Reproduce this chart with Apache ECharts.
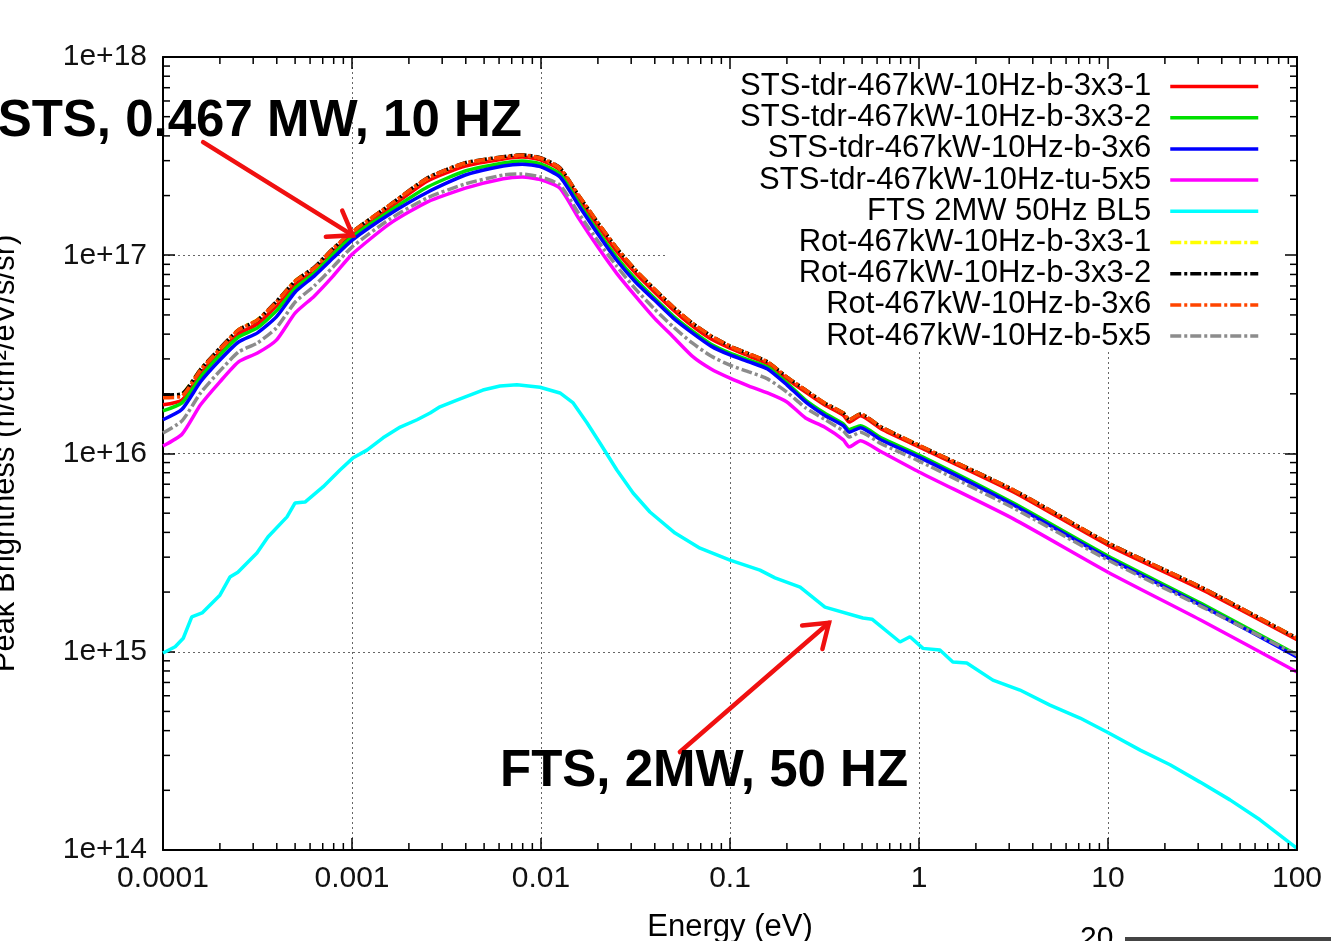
<!DOCTYPE html>
<html>
<head>
<meta charset="utf-8">
<title>Peak Brightness vs Energy</title>
<script src="https://cdn.jsdelivr.net/npm/echarts@6/dist/echarts.min.js"></script>
<style>
html, body { margin: 0; padding: 0; background: #fff; }
#chart { width: 1331px; height: 941px; }
</style>
</head>
<body>
<div id="chart"></div>
<script>
// energies (eV) used by the STS and Rot curves
const energy = [1e-4, 1.26e-4, 1.58e-4, 2e-4, 2.51e-4, 3.16e-4, 3.98e-4, 5.01e-4, 6.31e-4, 7.94e-4,
    1e-3, 1.58e-3, 2.51e-3, 3.98e-3, 6.31e-3, 7.94e-3,
    0.01, 0.0126, 0.0158, 0.02, 0.0251, 0.0316, 0.0398, 0.0501, 0.0631, 0.0794,
    0.1, 0.126, 0.158, 0.2, 0.251, 0.316, 0.398, 0.427, 0.49, 0.631,
    1, 3.16, 10, 31.6, 100]

const stsB3x3_1 = [1.76e16, 1.86e16, 2.52e16, 3.25e16, 4.01e16, 4.50e16, 5.55e16, 7.16e16, 8.34e16, 1.04e17,
    1.26e17, 1.73e17, 2.37e17, 2.82e17, 3.06e17, 3.13e17,
    3.02e17, 2.69e17, 1.95e17, 1.41e17, 1.05e17, 8.13e16, 6.53e16, 5.30e16, 4.40e16, 3.78e16,
    3.40e16, 3.10e16, 2.83e16, 2.38e16, 2.04e16, 1.76e16, 1.56e16, 1.44e16, 1.55e16, 1.33e16,
    1.08e16, 6.40e15, 3.45e15, 2.05e15, 1.15e15]
const stsB3x3_2 = [1.64e16, 1.80e16, 2.43e16, 3.14e16, 3.87e16, 4.30e16, 5.24e16, 6.84e16, 8.13e16, 1.01e17,
    1.24e17, 1.67e17, 2.21e17, 2.66e17, 2.92e17, 2.99e17,
    2.88e17, 2.57e17, 1.84e17, 1.32e17, 9.80e16, 7.59e16, 6.08e16, 4.94e16, 4.15e16, 3.56e16,
    3.21e16, 2.96e16, 2.73e16, 2.27e16, 1.86e16, 1.60e16, 1.41e16, 1.32e16, 1.38e16, 1.20e16,
    9.82e15, 5.62e15, 3.04e15, 1.74e15, 9.64e14]
const stsB3x6 = [1.48e16, 1.67e16, 2.30e16, 2.96e16, 3.65e16, 4.06e16, 4.89e16, 6.53e16, 7.85e16, 9.68e16,
    1.19e17, 1.61e17, 2.08e17, 2.54e17, 2.82e17, 2.88e17,
    2.79e17, 2.48e17, 1.79e17, 1.28e17, 9.46e16, 7.33e16, 5.94e16, 4.82e16, 4.06e16, 3.48e16,
    3.14e16, 2.90e16, 2.67e16, 2.22e16, 1.82e16, 1.56e16, 1.38e16, 1.28e16, 1.35e16, 1.17e16,
    9.59e15, 5.50e15, 2.97e15, 1.70e15, 9.40e14]
const stsTu5x5 = [1.09e16, 1.25e16, 1.76e16, 2.30e16, 2.90e16, 3.21e16, 3.73e16, 5.12e16, 6.22e16, 7.85e16,
    1.01e17, 1.44e17, 1.86e17, 2.18e17, 2.43e17, 2.48e17,
    2.40e17, 2.18e17, 1.54e17, 1.10e17, 8.13e16, 6.22e16, 4.82e16, 3.87e16, 3.10e16, 2.67e16,
    2.40e16, 2.19e16, 2.02e16, 1.82e16, 1.51e16, 1.36e16, 1.17e16, 1.08e16, 1.16e16, 1.02e16,
    8.07e15, 4.68e15, 2.52e15, 1.43e15, 7.91e14]
const rotB3x3_1 = [1.94e16, 1.99e16, 2.66e16, 3.37e16, 4.22e16, 4.73e16, 5.81e16, 7.45e16, 8.63e16, 1.08e17,
    1.31e17, 1.79e17, 2.45e17, 2.92e17, 3.13e17, 3.20e17,
    3.09e17, 2.75e17, 2.01e17, 1.46e17, 1.09e17, 8.43e16, 6.76e16, 5.48e16, 4.55e16, 3.92e16,
    3.48e16, 3.18e16, 2.90e16, 2.43e16, 2.09e16, 1.80e16, 1.60e16, 1.48e16, 1.58e16, 1.36e16,
    1.10e16, 6.55e15, 3.54e15, 2.10e15, 1.17e15]
const rotB3x3_2 = [1.97e16, 2.00e16, 2.66e16, 3.40e16, 4.20e16, 4.71e16, 5.85e16, 7.41e16, 8.70e16, 1.08e17,
    1.31e17, 1.79e17, 2.46e17, 2.93e17, 3.14e17, 3.21e17,
    3.10e17, 2.76e17, 2.01e17, 1.46e17, 1.09e17, 8.43e16, 6.76e16, 5.48e16, 4.55e16, 3.92e16,
    3.48e16, 3.18e16, 2.90e16, 2.43e16, 2.09e16, 1.80e16, 1.60e16, 1.48e16, 1.58e16, 1.36e16,
    1.10e16, 6.55e15, 3.54e15, 2.10e15, 1.17e15]
const rotB3x6 = [1.91e16, 1.95e16, 2.64e16, 3.37e16, 4.20e16, 4.71e16, 5.81e16, 7.41e16, 8.63e16, 1.08e17,
    1.31e17, 1.79e17, 2.45e17, 2.92e17, 3.13e17, 3.20e17,
    3.09e17, 2.75e17, 2.01e17, 1.46e17, 1.09e17, 8.43e16, 6.76e16, 5.48e16, 4.55e16, 3.92e16,
    3.48e16, 3.18e16, 2.90e16, 2.43e16, 2.09e16, 1.80e16, 1.60e16, 1.48e16, 1.58e16, 1.36e16,
    1.10e16, 6.55e15, 3.54e15, 2.10e15, 1.17e15]
const rotB5x5 = [1.27e16, 1.46e16, 2.02e16, 2.61e16, 3.25e16, 3.61e16, 4.30e16, 5.81e16, 7.00e16, 8.73e16,
    1.10e17, 1.52e17, 1.95e17, 2.29e17, 2.54e17, 2.57e17,
    2.48e17, 2.26e17, 1.63e17, 1.18e17, 8.83e16, 6.76e16, 5.36e16, 4.35e16, 3.61e16, 3.10e16,
    2.79e16, 2.58e16, 2.38e16, 2.04e16, 1.70e16, 1.49e16, 1.30e16, 1.21e16, 1.28e16, 1.12e16,
    9.16e15, 5.31e15, 2.90e15, 1.68e15, 9.64e14]

// FTS curve has its own energies
const ftsEnergy = [1.00e-4, 1.16e-4, 1.28e-4, 1.42e-4, 1.61e-4, 2.00e-4, 2.26e-4, 2.49e-4, 3.14e-4, 3.59e-4,
    4.53e-4, 4.99e-4, 5.64e-4, 7.02e-4, 8.64e-4, 1.01e-3, 1.20e-3, 1.46e-3, 1.80e-3, 2.21e-3,
    2.59e-3, 2.92e-3, 3.59e-3, 4.93e-3, 6.07e-3, 7.46e-3, 9.88e-3, 1.26e-2, 1.48e-2, 1.75e-2,
    2.05e-2, 2.52e-2, 3.07e-2, 3.77e-2, 5.12e-2, 6.94e-2, 0.100, 0.144, 0.173, 0.235,
    0.318, 0.505, 0.564, 0.793, 0.896, 1.05, 1.29, 1.51, 1.79, 2.46,
    3.42, 4.93, 7.11, 10.1, 14.8, 21.3, 30.7, 44.2, 63.7, 100]
const ftsBL5 = [9.86e14, 1.06e15, 1.17e15, 1.50e15, 1.57e15, 1.93e15, 2.38e15, 2.52e15, 3.15e15, 3.79e15,
    4.79e15, 5.62e15, 5.69e15, 6.78e15, 8.26e15, 9.48e15, 1.04e16, 1.20e16, 1.36e16, 1.48e16,
    1.60e16, 1.72e16, 1.86e16, 2.09e16, 2.19e16, 2.22e16, 2.16e16, 2.02e16, 1.80e16, 1.43e16,
    1.13e16, 8.26e15, 6.32e15, 5.07e15, 3.97e15, 3.33e15, 2.90e15, 2.58e15, 2.36e15, 2.12e15,
    1.68e15, 1.48e15, 1.46e15, 1.12e15, 1.19e15, 1.04e15, 1.02e15, 8.87e14, 8.77e14, 7.19e14,
    6.41e14, 5.38e14, 4.63e14, 3.89e14, 3.19e14, 2.69e14, 2.20e14, 1.79e14, 1.42e14, 1.02e14]

const xTickLabels = ['0.0001', '0.001', '0.01', '0.1', '1', '10', '100']
const yTickLabels = ['1e+14', '1e+15', '1e+16', '1e+17', '1e+18']
const minorSteps = [2, 3, 4, 5, 6, 7, 8, 9]

const xMin = 1e-4, xMax = 100, yMin = 1e14, yMax = 1e18
const FONT = 'Liberation Sans'
const dashDot = [11, 3, 3, 3]

const curves = [
    {name: 'STS-tdr-467kW-10Hz-b-3x3-1', x: energy, y: stsB3x3_1, color: '#ff0000', type: 'solid'},
    {name: 'STS-tdr-467kW-10Hz-b-3x3-2', x: energy, y: stsB3x3_2, color: '#00e000', type: 'solid'},
    {name: 'STS-tdr-467kW-10Hz-b-3x6', x: energy, y: stsB3x6, color: '#0000ff', type: 'solid'},
    {name: 'STS-tdr-467kW-10Hz-tu-5x5', x: energy, y: stsTu5x5, color: '#ff00ff', type: 'solid'},
    {name: 'FTS 2MW 50Hz BL5', x: ftsEnergy, y: ftsBL5, color: '#00ffff', type: 'solid'},
    {name: 'Rot-467kW-10Hz-b-3x3-1', x: energy, y: rotB3x3_1, color: '#ffff00', type: dashDot},
    {name: 'Rot-467kW-10Hz-b-3x3-2', x: energy, y: rotB3x3_2, color: '#000000', type: dashDot},
    {name: 'Rot-467kW-10Hz-b-3x6', x: energy, y: rotB3x6, color: '#ff4500', type: dashDot},
    {name: 'Rot-467kW-10Hz-b-5x5', x: energy, y: rotB5x5, color: '#8c8c8c', type: dashDot}
]

// minor tick positions (2..9 in every decade)
let minorTicks = []
for (let e = -4; e < 2; e++) {
    minorSteps.forEach(m => minorTicks.push([m * Math.pow(10, e), yMin, 0]))
}
for (let e = 14; e < 18; e++) {
    minorSteps.forEach(m => minorTicks.push([xMin, m * Math.pow(10, e), 1]))
}

function drawMinorTick(params, api) {
    const len = 7
    const style = {stroke: '#000', lineWidth: 1.5}
    if (api.value(2) === 0) {
        const b = api.coord([api.value(0), yMin])
        const t = api.coord([api.value(0), yMax])
        return {type: 'group', children: [
            {type: 'line', shape: {x1: b[0], y1: b[1], x2: b[0], y2: b[1] - len}, style: style},
            {type: 'line', shape: {x1: t[0], y1: t[1], x2: t[0], y2: t[1] + len}, style: style}
        ]}
    }
    const l = api.coord([xMin, api.value(1)])
    const r = api.coord([xMax, api.value(1)])
    return {type: 'group', children: [
        {type: 'line', shape: {x1: l[0], y1: l[1], x2: l[0] + len, y2: l[1]}, style: style},
        {type: 'line', shape: {x1: r[0], y1: r[1], x2: r[0] - len, y2: r[1]}, style: style}
    ]}
}

const axisLine = {show: true, lineStyle: {color: '#000', width: 2}}
const majorTick = {show: true, inside: true, length: 12, lineStyle: {color: '#000', width: 1.5}}
const gridLine = {show: true, lineStyle: {color: '#666', width: 1, type: [2, 3]}}

let series = curves.map(c => ({
    name: c.name,
    type: 'line',
    data: c.x.map((v, i) => [v, c.y[i]]),
    showSymbol: false,
    symbol: 'none',
    smooth: c.x === energy ? 0.2 : false,
    lineStyle: {color: c.color, width: 3.5, type: c.type},
    itemStyle: {color: c.color},
    emphasis: {disabled: true},
    z: 2
}))
series.push({
    type: 'custom',
    renderItem: drawMinorTick,
    data: minorTicks,
    clip: false,
    silent: true,
    z: 6
})

let options = {
    animation: false,
    backgroundColor: '#fff',
    grid: {left: 163, right: 34, top: 57, bottom: 91, outerBoundsMode: 'none', containLabel: false},
    legend: {
        data: curves.map(c => c.name),
        orient: 'vertical',
        right: 34,
        top: 57,
        align: 'right',
        padding: [14, 37, 0, 73],
        backgroundColor: '#fff',
        itemWidth: 88,
        itemHeight: 14,
        itemGap: 0.2,
        selectedMode: false,
        z: 1,
        itemStyle: {opacity: 0, borderWidth: 0},
        lineStyle: {width: 3.5},
        textStyle: {fontFamily: FONT, fontSize: 31, color: '#000', lineHeight: 31, padding: [0, 14, 0, 0]}
    },
    xAxis: [
        {
            type: 'log', logBase: 10, min: xMin, max: xMax, splitNumber: 6,
            name: 'Energy (eV)', nameLocation: 'middle', nameGap: 62,
            nameTextStyle: {fontFamily: FONT, fontSize: 31, color: '#000'},
            axisLine: axisLine, axisTick: majorTick, splitLine: gridLine,
            axisLabel: {
                fontFamily: FONT, fontSize: 30, color: '#111', margin: 14,
                formatter: v => xTickLabels[Math.round(Math.log10(v)) + 4]
            },
            z: 0
        },
        {
            type: 'log', logBase: 10, min: xMin, max: xMax, splitNumber: 6, position: 'top',
            axisLine: axisLine, axisTick: majorTick, splitLine: {show: false},
            axisLabel: {show: false}, z: 5
        }
    ],
    yAxis: [
        {
            type: 'log', logBase: 10, min: yMin, max: yMax, splitNumber: 4,
            name: 'Peak Brightness (n/cm²/eV/s/sr)', nameLocation: 'middle', nameGap: 142,
            nameTextStyle: {fontFamily: FONT, fontSize: 31, color: '#000'},
            axisLine: axisLine, axisTick: majorTick, splitLine: gridLine,
            axisLabel: {
                fontFamily: FONT, fontSize: 30, color: '#111', margin: 16,
                formatter: v => yTickLabels[Math.round(Math.log10(v)) - 14]
            },
            z: 0
        },
        {
            type: 'log', logBase: 10, min: yMin, max: yMax, splitNumber: 4, position: 'right',
            axisLine: axisLine, axisTick: majorTick, splitLine: {show: false},
            axisLabel: {show: false}, z: 5
        }
    ],
    series: series
}

const chart = echarts.init(document.getElementById('chart'))
chart.setOption(options)

// annotation arrows, anchored in data space
const arrows = [
    {from: [1.63e-4, 3.72e17], to: [1.01e-3, 1.26e17]},
    {from: [0.0543, 3.12e14], to: [0.334, 1.40e15]}
]

function arrowShapes(a) {
    const p0 = chart.convertToPixel({gridIndex: 0}, a.from)
    const p1 = chart.convertToPixel({gridIndex: 0}, a.to)
    const ang = Math.atan2(p0[1] - p1[1], p0[0] - p1[0])
    const L = 27, spread = 35 * Math.PI / 180
    const b1 = [p1[0] + L * Math.cos(ang + spread), p1[1] + L * Math.sin(ang + spread)]
    const b2 = [p1[0] + L * Math.cos(ang - spread), p1[1] + L * Math.sin(ang - spread)]
    const style = {stroke: '#f01010', lineWidth: 4.5, fill: null, lineCap: 'round', lineJoin: 'miter'}
    return [
        {type: 'polyline', shape: {points: [p0, p1]}, style: style, z: 20},
        {type: 'polyline', shape: {points: [b1, p1, b2]}, style: style, z: 20}
    ]
}

let graphics = []
arrows.forEach(a => { graphics = graphics.concat(arrowShapes(a)) })
graphics.push({
    type: 'text', x: 522, y: 122, z: 21,
    style: {text: 'STS, 0.467 MW, 10 HZ', font: 'bold 51px "Liberation Sans"', fill: '#000', align: 'right', verticalAlign: 'middle'}
})
graphics.push({
    type: 'text', x: 500, y: 772, z: 21,
    style: {text: 'FTS, 2MW, 50 HZ', font: 'bold 51px "Liberation Sans"', fill: '#000', align: 'left', verticalAlign: 'middle'}
})
// edge of the next figure, cut off at the bottom
graphics.push({
    type: 'text', x: 1080, y: 924, z: 21,
    style: {text: '20', font: '30px "Liberation Sans"', fill: '#000', align: 'left', verticalAlign: 'top'}
})
graphics.push({
    type: 'rect', shape: {x: 1125, y: 937, width: 206, height: 4}, z: 21,
    style: {fill: '#444'}
})

chart.setOption({graphic: graphics})
</script>
</body>
</html>
